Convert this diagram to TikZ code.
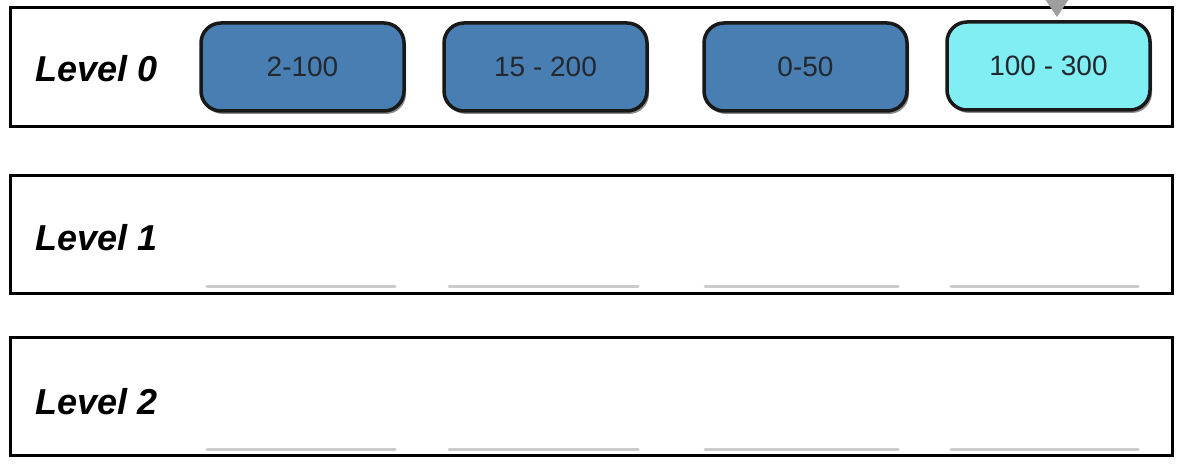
\documentclass[tikz,border=0pt]{standalone}
\usepackage{fontspec}
\setmainfont{Liberation Sans}
\usetikzlibrary{shadows,arrows.meta}
\definecolor{boxblue}{RGB}{72,126,178}
\definecolor{boxcyan}{RGB}{128,238,242}
\definecolor{numtext}{RGB}{34,40,46}
\tikzset{
  levelbox/.style={draw=black, line width=3pt, fill=white, minimum width=1162pt, minimum height=118pt, inner sep=0pt},
  levellabel/.style={anchor=west, inner sep=0pt, font=\fontsize{36}{40}\selectfont\bfseries\itshape},
  rangebox/.style={draw=black!90, line width=3.5pt, rounded corners=20pt, minimum width=203pt, minimum height=88pt, inner sep=0pt, text=numtext, font=\fontsize{28}{32}\selectfont,
    drop shadow={shadow xshift=2pt, shadow yshift=-3pt, opacity=0.45, fill=black}},
  ghost/.style={draw=black!45, line width=3pt, opacity=0.45, line cap=round},
  feed/.style={draw=black!38, line width=10pt, -{Triangle[width=30pt,length=24pt]}}
}
\begin{document}
\begin{tikzpicture}[x=1pt,y=-1pt]
\useasboundingbox (0,0) rectangle (1190,476);
\clip (0,0) rectangle (1190,476);
% level boxes
\node[levelbox] (L0) at (591,67) {};
\node[levelbox] (L1) at (591,234) {};
\node[levelbox] (L2) at (591,396.5) {};
\node[levellabel] (t0) at (35,69) {Level 0};
\node[levellabel] (t1) at (35,238) {Level 1};
\node[levellabel] (t2) at (35,402) {Level 2};
% faint remnants
\foreach \a/\b in {207/395, 449/638, 705/898, 951/1138}{
  \draw[ghost] (\a,286) -- (\b,286);
  \draw[ghost] (\a,449) -- (\b,449);
}
% range boxes
\node[rangebox, fill=boxblue] (r1) at (302.5,67) {2-100};
\node[rangebox, fill=boxblue] (r2) at (545.5,67) {15 - 200};
\node[rangebox, fill=boxblue] (r3) at (805.5,67) {0-50};
\node[rangebox, fill=boxcyan] (r4) at (1048.5,66) {100 - 300};
% incoming arrow
\coordinate (src) at (1057,-60);
\draw[feed, shorten >=3pt] (src) -- (r4.north -| src);
\end{tikzpicture}
\end{document}
